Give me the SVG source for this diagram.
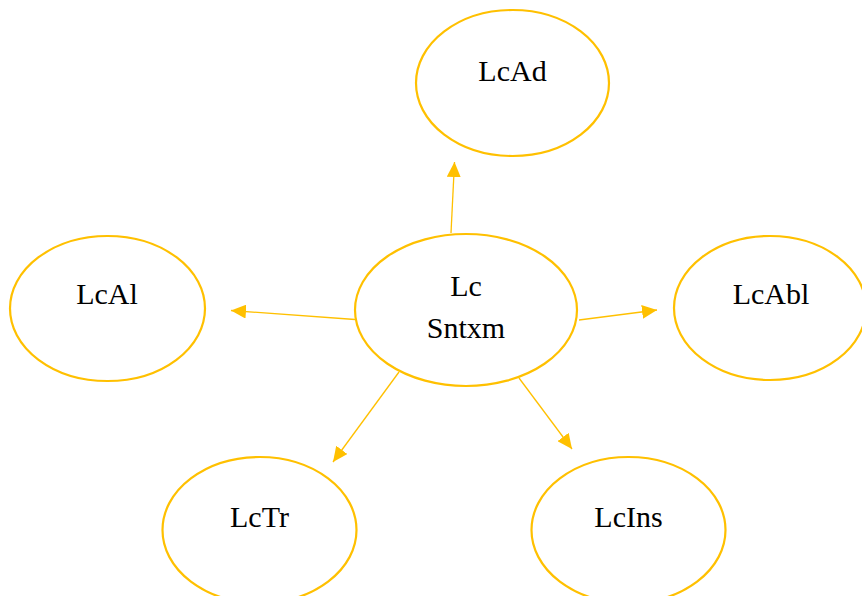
<svg xmlns="http://www.w3.org/2000/svg" width="862" height="596" viewBox="0 0 862 596">
  <defs>
    <style>
      .node ellipse { fill: #FFFFFF; stroke: #FFC000; stroke-width: 2.2; }
      .node text { font-family: "Liberation Serif", "Times New Roman", serif; font-size: 30px; fill: #000000; text-anchor: middle; }
      .edges line { stroke: #FFC000; stroke-width: 1.3; }
    </style>
    <marker id="arrow" viewBox="0 0 15 14" refX="15" refY="7" markerWidth="15" markerHeight="14" markerUnits="userSpaceOnUse" orient="auto">
      <path d="M0,0 L15,7 L0,14 Z" fill="#FFC000"/>
    </marker>
  </defs>
  <rect width="862" height="596" fill="#FFFFFF"/>

  <!-- connectors from the centre node -->
  <g class="edges">
    <line x1="451" y1="233" x2="454.5" y2="162" marker-end="url(#arrow)"/>
    <line x1="355" y1="319.5" x2="231" y2="310.5" marker-end="url(#arrow)"/>
    <line x1="579" y1="320" x2="657" y2="310" marker-end="url(#arrow)"/>
    <line x1="399" y1="372" x2="333" y2="462" marker-end="url(#arrow)"/>
    <line x1="519" y1="378" x2="572" y2="449" marker-end="url(#arrow)"/>
  </g>

  <g id="lcad" class="node">
    <ellipse cx="512.5" cy="83" rx="96.5" ry="73"/>
    <text x="512.5" y="81">LcAd</text>
  </g>

  <g id="lcal" class="node">
    <ellipse cx="107.5" cy="308.5" rx="97.5" ry="72.5"/>
    <text x="107" y="304">LcAl</text>
  </g>

  <g id="lc-sntxm" class="node">
    <ellipse cx="466" cy="310" rx="111" ry="76"/>
    <text x="466" y="296">Lc</text>
    <text x="466" y="338">Sntxm</text>
  </g>

  <g id="lcabl" class="node">
    <ellipse cx="770" cy="308" rx="96" ry="72"/>
    <text x="771" y="304">LcAbl</text>
  </g>

  <g id="lctr" class="node">
    <ellipse cx="259.5" cy="530" rx="97" ry="73"/>
    <text x="259.5" y="527">LcTr</text>
  </g>

  <g id="lcins" class="node">
    <ellipse cx="628.5" cy="530" rx="97" ry="73"/>
    <text x="628.5" y="527">LcIns</text>
  </g>
</svg>
